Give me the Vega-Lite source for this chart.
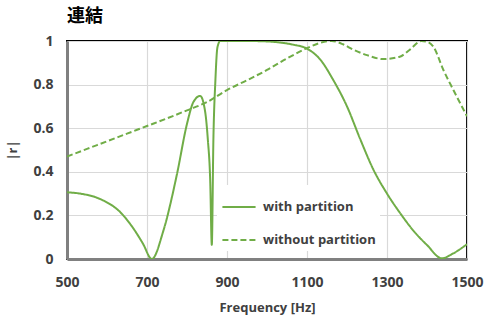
{
  "$schema": "https://vega.github.io/schema/vega-lite/v6.json",
  "width": 400,
  "height": 218,
  "autosize": "none",
  "padding": {"left": 67, "top": 41, "right": 19, "bottom": 59},
  "background": "white",
  "title": {"text": "連結", "anchor": "start", "frame": "group", "font": "Noto Sans CJK JP", "fontSize": 18, "fontWeight": "bold", "color": "#000000", "offset": 8},
  "config": {
    "view": {"stroke": "#000000", "strokeWidth": 2},
    "font": "Open Sans"
  },
  "data": {"values": [
    {"series": "with partition", "f": 500, "r": 0.306},
    {"series": "with partition", "f": 533, "r": 0.300},
    {"series": "with partition", "f": 583, "r": 0.275},
    {"series": "with partition", "f": 633, "r": 0.215},
    {"series": "with partition", "f": 666, "r": 0.14},
    {"series": "with partition", "f": 690, "r": 0.07},
    {"series": "with partition", "f": 712, "r": 0.0},
    {"series": "with partition", "f": 741, "r": 0.13},
    {"series": "with partition", "f": 775, "r": 0.39},
    {"series": "with partition", "f": 800, "r": 0.62},
    {"series": "with partition", "f": 816, "r": 0.72},
    {"series": "with partition", "f": 833, "r": 0.748},
    {"series": "with partition", "f": 845, "r": 0.68},
    {"series": "with partition", "f": 852, "r": 0.55},
    {"series": "with partition", "f": 858, "r": 0.36},
    {"series": "with partition", "f": 862, "r": 0.065},
    {"series": "with partition", "f": 866, "r": 0.55},
    {"series": "with partition", "f": 871, "r": 0.82},
    {"series": "with partition", "f": 876, "r": 0.97},
    {"series": "with partition", "f": 883, "r": 1.0},
    {"series": "with partition", "f": 900, "r": 1.0},
    {"series": "with partition", "f": 950, "r": 1.0},
    {"series": "with partition", "f": 1000, "r": 0.998},
    {"series": "with partition", "f": 1033, "r": 0.993},
    {"series": "with partition", "f": 1066, "r": 0.983},
    {"series": "with partition", "f": 1100, "r": 0.965},
    {"series": "with partition", "f": 1133, "r": 0.915},
    {"series": "with partition", "f": 1166, "r": 0.82},
    {"series": "with partition", "f": 1200, "r": 0.70},
    {"series": "with partition", "f": 1233, "r": 0.55},
    {"series": "with partition", "f": 1266, "r": 0.41},
    {"series": "with partition", "f": 1300, "r": 0.30},
    {"series": "with partition", "f": 1333, "r": 0.21},
    {"series": "with partition", "f": 1366, "r": 0.13},
    {"series": "with partition", "f": 1400, "r": 0.064},
    {"series": "with partition", "f": 1437, "r": 0.003},
    {"series": "with partition", "f": 1466, "r": 0.026},
    {"series": "with partition", "f": 1500, "r": 0.068},
    {"series": "without partition", "f": 500, "r": 0.47},
    {"series": "without partition", "f": 550, "r": 0.505},
    {"series": "without partition", "f": 600, "r": 0.54},
    {"series": "without partition", "f": 650, "r": 0.575},
    {"series": "without partition", "f": 700, "r": 0.61},
    {"series": "without partition", "f": 750, "r": 0.645},
    {"series": "without partition", "f": 800, "r": 0.682},
    {"series": "without partition", "f": 850, "r": 0.72},
    {"series": "without partition", "f": 900, "r": 0.775},
    {"series": "without partition", "f": 950, "r": 0.82},
    {"series": "without partition", "f": 1000, "r": 0.867},
    {"series": "without partition", "f": 1050, "r": 0.92},
    {"series": "without partition", "f": 1100, "r": 0.967},
    {"series": "without partition", "f": 1130, "r": 0.99},
    {"series": "without partition", "f": 1162, "r": 1.0},
    {"series": "without partition", "f": 1190, "r": 0.985},
    {"series": "without partition", "f": 1216, "r": 0.96},
    {"series": "without partition", "f": 1250, "r": 0.935},
    {"series": "without partition", "f": 1291, "r": 0.917},
    {"series": "without partition", "f": 1332, "r": 0.928},
    {"series": "without partition", "f": 1357, "r": 0.96},
    {"series": "without partition", "f": 1386, "r": 1.0},
    {"series": "without partition", "f": 1400, "r": 0.997},
    {"series": "without partition", "f": 1416, "r": 0.974},
    {"series": "without partition", "f": 1441, "r": 0.867},
    {"series": "without partition", "f": 1466, "r": 0.775},
    {"series": "without partition", "f": 1500, "r": 0.655}
  ]},
  "mark": {"type": "line", "color": "#70ad47", "strokeWidth": 2, "interpolate": "monotone", "clip": true},
  "encoding": {
    "x": {"field": "f", "type": "quantitative",
      "scale": {"domain": [500, 1500], "nice": false, "zero": false},
      "axis": {"values": [500, 700, 900, 1100, 1300, 1500], "format": "d", "title": "Frequency [Hz]",
        "ticks": false, "labelPadding": 16, "labelFontSize": 14, "labelFontWeight": "bold", "labelColor": "#404040",
        "titleFontSize": 13, "titleFontWeight": "bold", "titleColor": "#404040", "titlePadding": 12,
        "domainColor": "#808080", "domainWidth": 3, "gridColor": "#d9d9d9", "gridWidth": 1.2, "labelFlush": false}},
    "y": {"field": "r", "type": "quantitative",
      "scale": {"domain": [0, 1], "nice": false},
      "axis": {"values": [0, 0.2, 0.4, 0.6, 0.8, 1], "format": "~g", "title": "|r|",
        "ticks": false, "labelPadding": 14, "labelFontSize": 14, "labelFontWeight": "bold", "labelColor": "#404040",
        "titleFontSize": 13, "titleFontWeight": "bold", "titleColor": "#404040", "titleX": -55, "titleY": 109,
        "titleBaseline": "middle", "titleAlign": "center",
        "domainColor": "#808080", "domainWidth": 3, "gridColor": "#d9d9d9", "gridWidth": 1.2, "labelFlush": false}},
    "strokeDash": {"field": "series", "type": "nominal",
      "scale": {"domain": ["with partition", "without partition"], "range": [[1, 0], [6, 3]]},
      "legend": {"title": null, "orient": "none", "legendX": 150, "legendY": 144,
        "fillColor": "white", "padding": 4, "symbolType": "stroke", "symbolSize": 1100,
        "symbolStrokeColor": "#70ad47", "symbolStrokeWidth": 2,
        "labelFontSize": 13, "labelFontWeight": "bold", "labelColor": "#404040", "labelOffset": 6, "rowPadding": 8}}
  }
}
